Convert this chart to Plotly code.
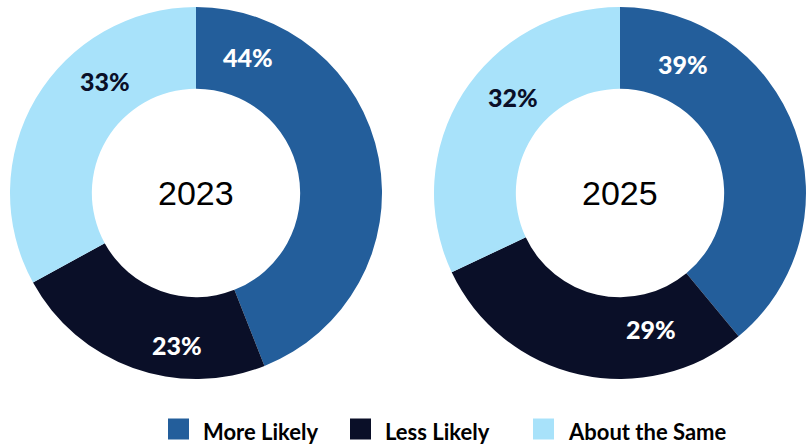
import math
import plotly.graph_objects as go

# Survey shares by year
categories = ["More Likely", "Less Likely", "About the Same"]
years = ["2023", "2025"]
values_2023 = [44, 23, 33]
values_2025 = [39, 29, 32]

colors = ["#235E9B", "#0A0F28", "#A8E2FA"]
text_colors = ["white", "white", "#0A0F28"]

W, H = 811, 445
centers = [(196, 193), (620, 193)]   # donut centres in px
radius = 186                          # outer radius in px
# angle (deg clockwise from 12 o'clock) and radius for each value label
label_angles = [[21, 187, 321], [26, 167, 312]]
label_r = [[146, 153, 144], [144, 140, 144]]

fig = go.Figure()
annotations = []
for i, (year, vals) in enumerate(zip(years, [values_2023, values_2025])):
    cx, cy = centers[i]
    fig.add_trace(go.Pie(
        labels=categories, values=vals, sort=False, direction="clockwise",
        rotation=0, hole=0.56, textinfo="none", hoverinfo="label+percent",
        marker=dict(colors=colors, line=dict(width=0)),
        domain=dict(x=[(cx - radius) / W, (cx + radius) / W],
                    y=[1 - (cy + radius) / H, 1 - (cy - radius) / H]),
        showlegend=False,
    ))
    annotations.append(dict(
        x=cx / W, y=1 - cy / H, xref="paper", yref="paper", text=year,
        xanchor="center", yanchor="middle", showarrow=False,
        font=dict(family="Liberation Sans", size=34, color="black"),
    ))
    for j, v in enumerate(vals):
        a = math.radians(label_angles[i][j])
        r = label_r[i][j]
        px = cx + r * math.sin(a)
        py = cy - r * math.cos(a)
        annotations.append(dict(
            x=px / W, y=1 - py / H, xref="paper", yref="paper", text=f"{v}%",
            xanchor="center", yanchor="middle", showarrow=False,
            font=dict(family="Lato", size=25, color=text_colors[j], weight=900),
        ))

# legend row along the bottom
legend_x = [168, 350, 533]
legend_y = 429
shapes = []
for k, cat in enumerate(categories):
    x0 = legend_x[k]
    shapes.append(dict(
        type="rect", xref="paper", yref="paper",
        x0=x0 / W, x1=(x0 + 21) / W,
        y0=1 - (legend_y + 10.5) / H, y1=1 - (legend_y - 10.5) / H,
        fillcolor=colors[k], line=dict(width=0),
    ))
    annotations.append(dict(
        x=(x0 + 33) / W, y=1 - (legend_y + 2) / H, xref="paper", yref="paper",
        xanchor="left", yanchor="middle", text=cat, showarrow=False,
        font=dict(family="Lato", size=22, color="black", weight=700),
    ))

fig.update_layout(
    width=W, height=H, margin=dict(l=0, r=0, t=0, b=0),
    paper_bgcolor="white", plot_bgcolor="white",
    annotations=annotations, shapes=shapes,
)
fig.write_html("out.html")
